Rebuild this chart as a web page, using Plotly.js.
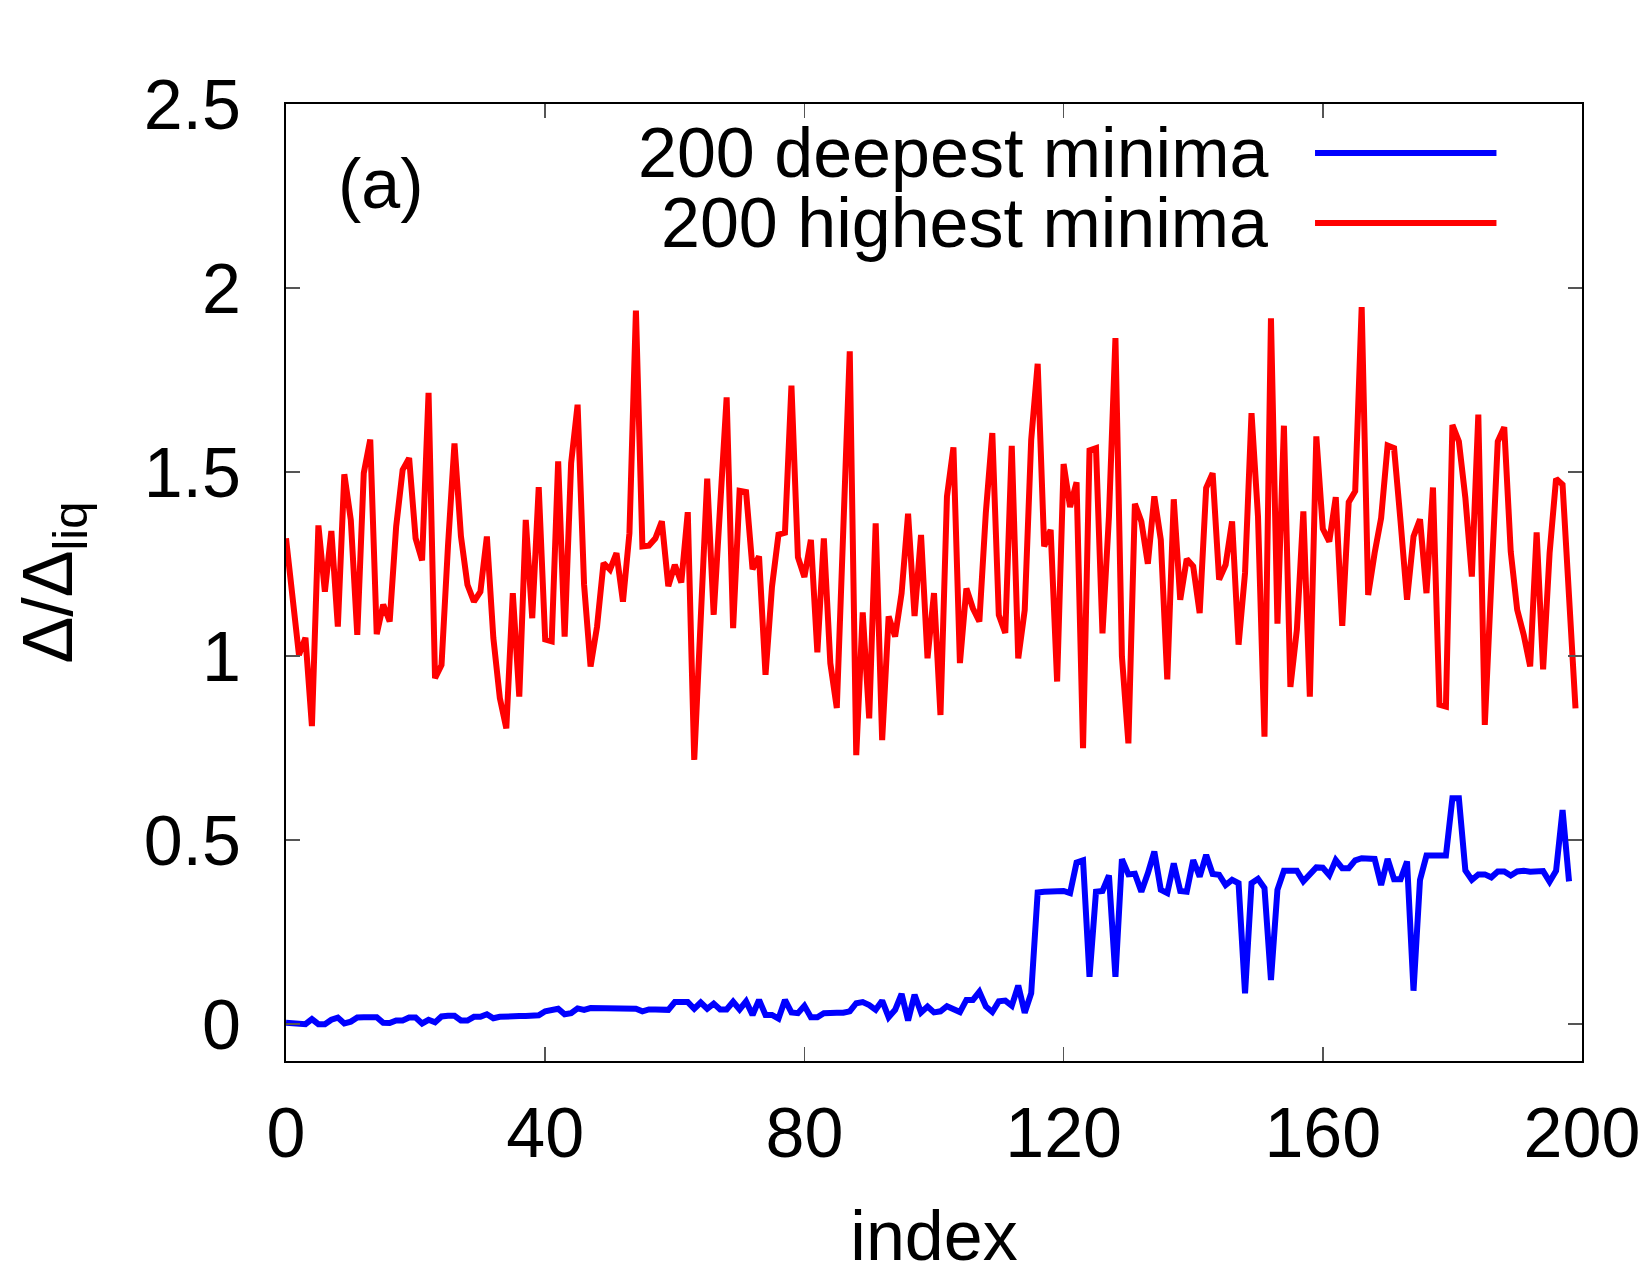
<!DOCTYPE html>
<html>
<head>
<meta charset="utf-8">
<script src="https://cdn.plot.ly/plotly-3.0.1.min.js"></script>
<style>
  html, body { margin: 0; padding: 0; background: #ffffff; }
  #chart { width: 1650px; height: 1275px; }
</style>
</head>
<body>
<div id="chart"></div>
<script>
// Δ/Δ_liq for the 200 highest-energy minima, in index order
const highestMinima = [
  1.32, 1.16, 1.003, 1.05, 0.81, 1.355, 1.175, 1.34, 1.08, 1.494,
  1.37, 1.058, 1.497, 1.588, 1.06, 1.14, 1.094, 1.352, 1.506, 1.538,
  1.32, 1.26, 1.715, 0.94, 0.976, 1.3, 1.578, 1.325, 1.194, 1.148,
  1.175, 1.325, 1.049, 0.886, 0.804, 1.171, 0.89, 1.37, 1.103, 1.459,
  1.045, 1.04, 1.529, 1.053, 1.524, 1.683, 1.194, 0.972, 1.08, 1.253,
  1.235, 1.28, 1.148, 1.334, 1.939, 1.298, 1.30, 1.32, 1.366, 1.19,
  1.248, 1.2, 1.391, 0.718, 1.1, 1.482, 1.112, 1.4, 1.703, 1.076,
  1.449, 1.446, 1.236, 1.271, 0.949, 1.189, 1.33, 1.335, 1.735, 1.269,
  1.215, 1.316, 1.01, 1.32, 0.981, 0.859, 1.35, 1.828, 0.731, 1.119,
  0.831, 1.361, 0.772, 1.108, 1.053, 1.171, 1.387, 1.109, 1.329, 0.994,
  1.171, 0.84, 1.434, 1.567, 0.981, 1.184, 1.13, 1.094, 1.39, 1.606,
  1.112, 1.063, 1.571, 0.994, 1.125, 1.588, 1.794, 1.298, 1.343, 0.931,
  1.522, 1.405, 1.472, 0.75, 1.559, 1.565, 1.062, 1.38, 1.864, 0.999,
  0.763, 1.414, 1.366, 1.251, 1.434, 1.316, 0.937, 1.426, 1.153, 1.264,
  1.244, 1.117, 1.457, 1.497, 1.208, 1.248, 1.366, 1.031, 1.226, 1.66,
  1.379, 0.781, 1.918, 1.088, 1.626, 0.916, 1.072, 1.393, 0.89, 1.597,
  1.346, 1.311, 1.432, 1.082, 1.418, 1.448, 1.948, 1.166, 1.28, 1.375,
  1.572, 1.565, 1.366, 1.153, 1.325, 1.372, 1.171, 1.458, 0.868, 0.863,
  1.628, 1.583, 1.43, 1.216, 1.656, 0.813, 1.2, 1.583, 1.622, 1.284,
  1.126, 1.058, 0.972, 1.336, 0.964, 1.28, 1.482, 1.466, 1.162, 0.858
];

// Δ/Δ_liq for the deepest minima, in index order
const deepestMinima = [
  0.004, 0.004, 0.003, 0.0, 0.014, 0.0, 0.0, 0.012, 0.018, 0.002,
  0.007, 0.018, 0.019, 0.019, 0.019, 0.004, 0.003, 0.01, 0.01, 0.018,
  0.018, 0.002, 0.012, 0.005, 0.021, 0.023, 0.023, 0.01, 0.01, 0.02,
  0.02, 0.027, 0.016, 0.02, 0.022, 0.022, 0.022, 0.022, 0.025, 0.024,
  0.035, 0.04, 0.042, 0.027, 0.03, 0.043, 0.039, 0.044, 0.044, 0.044,
  0.044, 0.044, 0.043, 0.043, 0.042, 0.035, 0.04, 0.04, 0.039, 0.039,
  0.06, 0.061, 0.06, 0.042, 0.059, 0.042, 0.056, 0.04, 0.04, 0.061,
  0.04, 0.062, 0.025, 0.066, 0.025, 0.025, 0.015, 0.066, 0.032, 0.03,
  0.05, 0.019, 0.019, 0.03, 0.032, 0.031, 0.031, 0.035, 0.057, 0.06,
  0.052, 0.039, 0.064, 0.019, 0.039, 0.082, 0.01, 0.08, 0.032, 0.048,
  0.032, 0.035, 0.049, 0.041, 0.033, 0.066, 0.066, 0.088, 0.048, 0.033,
  0.062, 0.064, 0.05, 0.105, 0.031, 0.084, 0.358, 0.36, 0.361, 0.362,
  0.362, 0.356, 0.439, 0.445, 0.129, 0.36, 0.362, 0.404, 0.129, 0.448,
  0.407, 0.409, 0.36, 0.41, 0.469, 0.365, 0.356, 0.437, 0.362, 0.36,
  0.446, 0.401, 0.46, 0.408, 0.406, 0.378, 0.392, 0.383, 0.084, 0.383,
  0.395, 0.37, 0.12, 0.365, 0.417, 0.417, 0.417, 0.388, 0.41, 0.426,
  0.425, 0.405, 0.446, 0.424, 0.424, 0.445, 0.451, 0.451, 0.449, 0.378,
  0.449, 0.394, 0.394, 0.442, 0.091, 0.392, 0.458, 0.458, 0.458, 0.458,
  0.614, 0.614, 0.418, 0.392, 0.407, 0.407, 0.399, 0.415, 0.415, 0.404,
  0.415, 0.417, 0.414, 0.417, 0.416, 0.387, 0.417, 0.582, 0.388
];

const seriesNames = ['200 deepest minima', '200 highest minima'];
const seriesColors = ['#0000ff', '#ff0000'];
const xTicks = [0, 40, 80, 120, 160, 200];
const yTicks = [0, 0.5, 1, 1.5, 2, 2.5];
const panelLabel = '(a)';

const idx = arr => arr.map((_, i) => i);

const FONT = 'Liberation Sans, Arial, Helvetica, sans-serif';
const LINE_W = 6;

const traces = [
  {
    x: idx(deepestMinima), y: deepestMinima, type: 'scatter', mode: 'lines',
    name: seriesNames[0], line: { color: seriesColors[0], width: LINE_W }, showlegend: false
  },
  {
    x: idx(highestMinima), y: highestMinima, type: 'scatter', mode: 'lines',
    name: seriesNames[1], line: { color: seriesColors[1], width: LINE_W }, showlegend: false
  }
];

// gnuplot-style key: right-aligned text followed by a line sample
const keyRows = [0.9488, 0.8757];
const annotations = seriesNames.map((n, k) => ({
  xref: 'paper', yref: 'paper', x: 0.759, y: keyRows[k],
  xanchor: 'right', yanchor: 'middle', text: n, showarrow: false,
  font: { family: FONT, size: 70, color: '#000' }
}));
annotations.push({
  xref: 'paper', yref: 'paper', x: 0.0733, y: 0.9164,
  xanchor: 'center', yanchor: 'middle', text: panelLabel, showarrow: false,
  font: { family: FONT, size: 70, color: '#000' }
});
const shapes = seriesColors.map((c, k) => ({
  type: 'line', xref: 'paper', yref: 'paper',
  x0: 0.794, x1: 0.934, y0: keyRows[k], y1: keyRows[k],
  line: { color: c, width: LINE_W }
}));

const axisCommon = {
  showgrid: false, zeroline: false,
  showline: true, linecolor: '#000', linewidth: 2, mirror: 'ticks',
  ticks: 'inside', ticklen: 14, tickwidth: 1.5, tickcolor: '#555',
  tickfont: { family: FONT, size: 70, color: '#000' }
};

const layout = {
  width: 1650, height: 1275,
  paper_bgcolor: '#ffffff', plot_bgcolor: '#ffffff',
  margin: { l: 286, r: 68, t: 104, b: 214 },
  showlegend: false,
  xaxis: Object.assign({}, axisCommon, {
    range: [0, 200], tickvals: xTicks, ticktext: xTicks.map(String),
    ticklabelstandoff: 10,
    title: { text: 'index', font: { family: FONT, size: 70, color: '#000' }, standoff: 50 }
  }),
  yaxis: Object.assign({}, axisCommon, {
    range: [-0.1, 2.5], tickvals: yTicks, ticktext: yTicks.map(String),
    ticklabelstandoff: 29,
    title: { text: 'Δ/Δ<sub>liq</sub>', font: { family: FONT, size: 70, color: '#000' }, standoff: 48 }
  }),
  annotations: annotations,
  shapes: shapes
};

Plotly.newPlot('chart', traces, layout, { staticPlot: true, displayModeBar: false });
</script>
</body>
</html>
